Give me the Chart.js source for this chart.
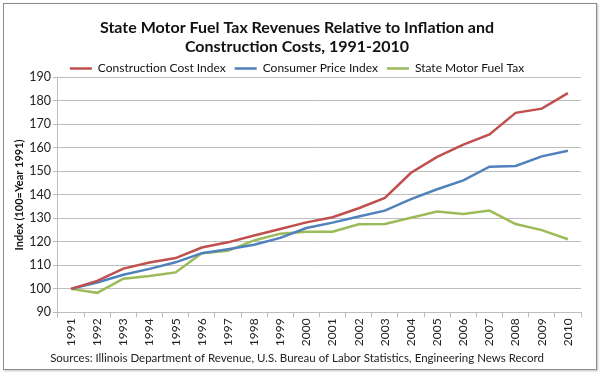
<!DOCTYPE html>
<html>
<head>
<meta charset="utf-8">
<script src="https://cdn.jsdelivr.net/npm/chart.js@4"></script>
<style>
  html, body { margin: 0; padding: 0; background: #fff; }
  #wrap {
    position: absolute; left: 3px; top: 3px;
    width: 592px; height: 365px;
    border: 1px solid #8c8c8c;
    box-shadow: 1px 1px 2px rgba(0,0,0,0.25);
  }
  #chart { position: absolute; left: 0; top: 0; }
</style>
</head>
<body>
<div id="wrap"></div>
<canvas id="chart" width="600" height="373"></canvas>
<script>
// ── Data ──────────────────────────────────────────────────────
const years = ['1991','1992','1993','1994','1995','1996','1997','1998','1999','2000',
               '2001','2002','2003','2004','2005','2006','2007','2008','2009','2010'];

const constructionCost = [100, 103.4, 108.6, 111.2, 113.1, 117.6, 119.8, 122.7, 125.5, 128.3,
                          130.5, 134.3, 138.7, 149.4, 156.2, 161.4, 165.7, 174.9, 176.7, 183.3];
const consumerPrice    = [100, 102.7, 106.0, 108.5, 111.3, 115.2, 116.9, 118.8, 121.7, 125.9,
                          128.2, 130.8, 133.3, 138.2, 142.4, 146.2, 152.0, 152.3, 156.4, 158.8];
const fuelTax          = [100,  98.3, 104.3, 105.5, 107.0, 115.2, 116.2, 120.6, 123.5, 124.3,
                          124.3, 127.5, 127.6, 130.3, 132.9, 131.9, 133.3, 127.6, 125.0, 121.1];

const yTicks = { min: 90, max: 190, step: 10 };

// ── Style ─────────────────────────────────────────────────────
Chart.defaults.font.family = "Lato, 'Open Sans', sans-serif";
Chart.defaults.color       = '#222';

const gridGray = '#bdbdbd';

function lineSet(label, data, color) {
  return {
    label:           label,
    data:            data,
    borderColor:     color,
    backgroundColor: color,
    borderWidth:     2.5,
    pointRadius:     0,
    tension:         0,
    fill:            false
  };
}

new Chart(document.getElementById('chart').getContext('2d'), {
  type: 'line',
  data: {
    labels: years,
    datasets: [
      lineSet('Construction Cost Index', constructionCost, '#c0504d'),
      lineSet('Consumer Price Index',    consumerPrice,    '#4f81bd'),
      lineSet('State Motor Fuel Tax',    fuelTax,          '#9bbb59')
    ]
  },
  options: {
    responsive: false,
    animation:  false,
    layout: { padding: { top: 18, left: 13, right: 19, bottom: 8 } },
    plugins: {
      title: {
        display: true,
        text: ['State Motor Fuel Tax Revenues Relative to Inflation and',
               'Construction Costs, 1991-2010'],
        font:  { size: 16, weight: 'bold' },
        color: '#111',
        padding: { top: 0, bottom: -3 },
        lineHeight: 1.3
      },
      legend: {
        display:   true,
        position:  'top',
        maxHeight: 24,   // keep the top gap, trim the bottom gap
        labels: {
          usePointStyle:   true,
          pointStyle:      'line',
          pointStyleWidth: 22,
          boxHeight:       10,
          padding:         9,
          font:  { size: 12 },
          color: '#111'
        }
      },
      subtitle: {
        display:  true,
        position: 'bottom',
        text:     'Sources: Illinois Department of Revenue, U.S. Bureau of Labor Statistics, Engineering News Record',
        font:     { size: 11.5 },
        color:    '#222',
        padding:  { top: 4, bottom: 0 }
      },
      tooltip: { enabled: false }
    },
    scales: {
      x: {
        offset: true,
        grid: {
          offset:          true,
          drawOnChartArea: false,
          drawTicks:       true,
          tickLength:      5,
          color:           gridGray
        },
        border: { display: true, color: gridGray },
        ticks: {
          minRotation: 90,
          maxRotation: 90,
          autoSkip:    false,
          font:  { size: 12 },
          color: '#222',
          padding: 1
        }
      },
      y: {
        min: yTicks.min,
        max: yTicks.max,
        ticks: {
          stepSize: yTicks.step,
          font:  { size: 12.5 },
          color: '#222',
          padding: 2
        },
        grid:   { color: gridGray, tickLength: 5 },
        border: { display: true, color: gridGray },
        title: {
          display: true,
          text:    'Index (100=Year 1991)',
          font:    { size: 11, weight: 'bold' },
          color:   '#111',
          padding: { top: 0, bottom: 1 }
        }
      }
    }
  }
});
</script>
</body>
</html>
